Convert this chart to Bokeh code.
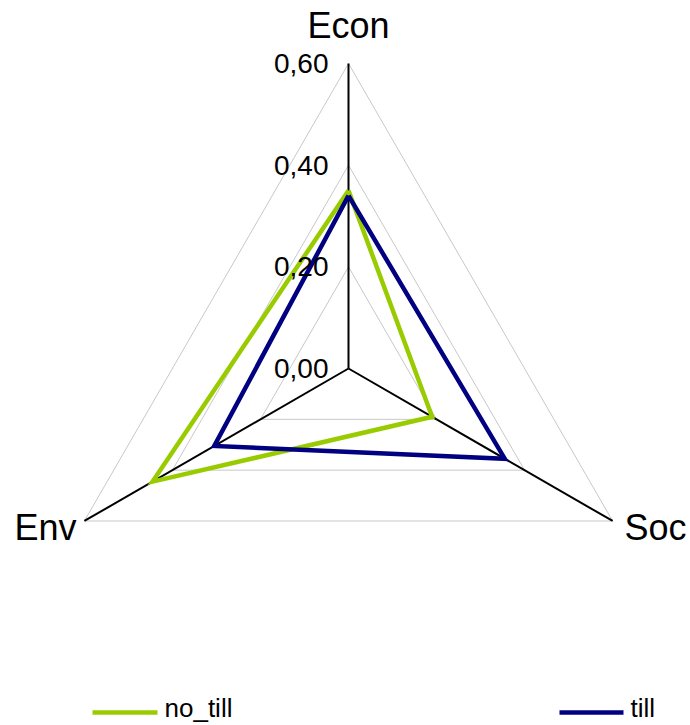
import math
from bokeh.plotting import figure
from bokeh.models import Range1d
from bokeh.core.properties import value
from bokeh.embed import file_html
from bokeh.resources import INLINE

# Radar chart data
axes_names = ["Econ", "Soc", "Env"]
no_till = [0.35, 0.19, 0.445]
till = [0.34, 0.355, 0.305]
tick_values = [0.0, 0.2, 0.4, 0.6]
tick_labels = ["0,00", "0,20", "0,40", "0,60"]
r_max = 0.6

W, H = 690, 725
scale = 508.3            # pixels per unit of value
cx, cy = 348, 368        # centre in pixels

p = figure(width=W, height=H, output_backend="svg", toolbar_location=None,
           x_range=Range1d(-cx / scale, (W - cx) / scale),
           y_range=Range1d(-(H - cy) / scale, cy / scale),
           min_border=0)
p.axis.visible = False
p.grid.visible = False
p.outline_line_color = None
p.background_fill_color = "white"

angles = [math.pi / 2, math.pi / 2 - 2 * math.pi / 3, math.pi / 2 + 2 * math.pi / 3]


def polar(vals):
    xs = [v * math.cos(a) for v, a in zip(vals, angles)]
    ys = [v * math.sin(a) for v, a in zip(vals, angles)]
    return xs + xs[:1], ys + ys[:1]


def px(x):
    return (x - cx) / scale


def py(y):
    return (cy - y) / scale


# grid triangles
for t in tick_values[1:]:
    gx, gy = polar([t] * 3)
    p.line(gx, gy, line_color="#c8c8c8", line_width=1)

# spokes
for a in angles:
    p.line([0, r_max * math.cos(a)], [0, r_max * math.sin(a)],
           line_color="black", line_width=2)

# series
for vals, col in [(no_till, "#99cc00"), (till, "#000080")]:
    sx, sy = polar(vals)
    p.line(sx, sy, line_color=col, line_width=4.5, line_join="miter")

font = value("Liberation Sans")

# tick labels along the Econ axis
p.text(x=[-20 / scale] * len(tick_values), y=tick_values, text=tick_labels,
       text_font=font, text_font_size="28px", text_align="right",
       text_baseline="middle", text_color="black")

# category labels
p.text(x=[0], y=[py(25)], text=[axes_names[0]], text_font=font,
       text_font_size="36px", text_align="center", text_baseline="middle")
p.text(x=[px(624)], y=[py(527)], text=[axes_names[1]],
       text_font=font, text_font_size="36px", text_align="left",
       text_baseline="middle")
p.text(x=[px(76)], y=[py(527)], text=[axes_names[2]],
       text_font=font, text_font_size="36px", text_align="right",
       text_baseline="middle")

# legend
ly = py(712)
p.line([px(92), px(157)], [ly, ly], line_color="#99cc00", line_width=4.5)
p.line([px(559), px(623)], [ly, ly], line_color="#000080", line_width=4.5)
p.text(x=[px(164), px(630)], y=[py(707)] * 2,
       text=["no_till", "till"], text_font=font, text_font_size="26px",
       text_align="left", text_baseline="middle")

open("out.html", "w").write(file_html(p, INLINE))
